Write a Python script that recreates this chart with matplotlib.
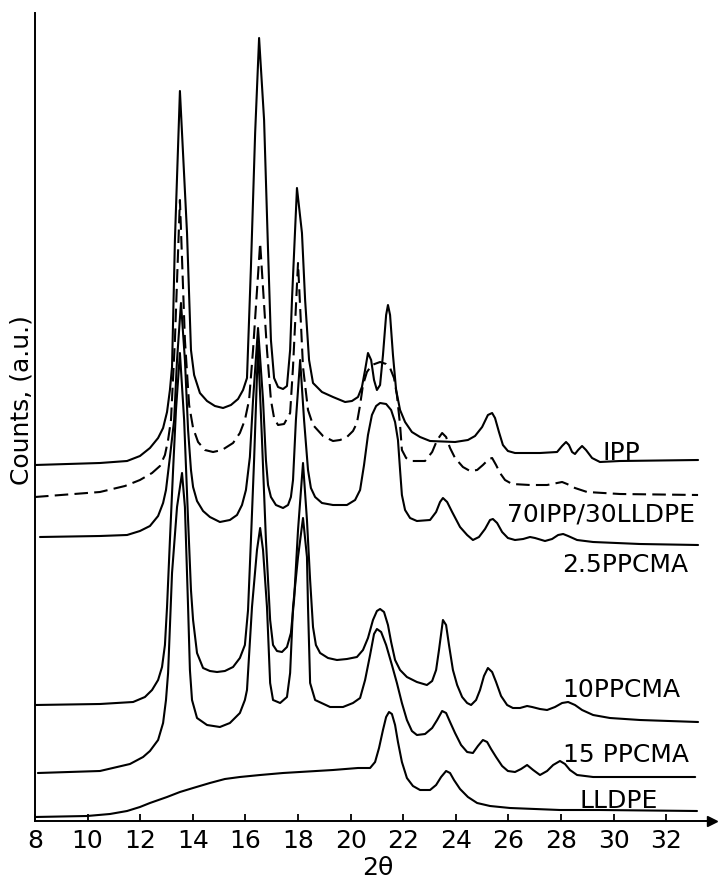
import matplotlib
matplotlib.use("Agg")
import matplotlib.pyplot as plt

# 2-theta (deg) and counts (a.u.)
ipp_x = [8.00, 10.47, 11.50, 11.99, 12.37, 12.68, 12.87, 13.02, 13.13, 13.21,
         13.32, 13.51, 13.78, 13.93, 14.05, 14.27, 14.54, 14.84, 15.15, 15.45,
         15.72, 15.91, 16.06, 16.21, 16.37, 16.52, 16.71, 16.86, 16.97, 17.09,
         17.24, 17.43, 17.58, 17.70, 17.77, 17.96, 18.15, 18.27, 18.42, 18.57,
         18.91, 19.33, 19.79, 20.05, 20.28, 20.43, 20.55, 20.66, 20.78, 20.89,
         21.00, 21.12, 21.23, 21.35, 21.42, 21.50, 21.61, 21.73, 21.88, 22.07,
         22.33, 22.64, 23.02, 23.97, 24.46, 24.73, 25.00, 25.22, 25.38, 25.49,
         25.64, 25.79, 25.98, 26.25, 27.20, 27.85, 28.04, 28.19, 28.30, 28.42,
         28.53, 28.65, 28.80, 28.95, 29.18, 29.48, 30.24, 33.21]
ipp_y = [356, 358, 360, 365, 373, 383, 393, 409, 431, 454,
         581, 730, 588, 471, 446, 428, 420, 415, 413, 416,
         422, 431, 443, 554, 688, 783, 701, 571, 481, 443,
         434, 432, 435, 471, 521, 633, 588, 521, 461, 438,
         429, 424, 419, 420, 424, 434, 451, 468, 461, 441,
         431, 436, 466, 506, 516, 506, 466, 431, 411, 399,
         389, 384, 380, 379, 381, 385, 394, 406, 408, 403,
         389, 376, 370, 368, 368, 369, 375, 379, 376, 369,
         367, 371, 375, 371, 363, 359, 360, 361]

blend_x = [8.00, 10.47, 11.42, 11.99, 12.45, 12.75, 12.94, 13.06, 13.17, 13.32,
           13.51, 13.70, 13.86, 14.01, 14.20, 14.46, 14.77, 15.11, 15.53, 15.79,
           15.98, 16.14, 16.29, 16.56, 16.82, 16.97, 17.09, 17.24, 17.47, 17.70,
           17.81, 18.00, 18.19, 18.38, 18.57, 18.95, 19.33, 19.60, 19.86, 20.09,
           20.24, 20.36, 20.47, 20.62, 20.81, 21.12, 21.35, 21.50, 21.65, 21.76,
           21.88, 21.95, 22.11, 22.33, 22.83, 23.10, 23.29, 23.48, 23.63, 23.78,
           23.97, 24.27, 24.54, 24.81, 25.03, 25.26, 25.38, 25.53, 25.68, 25.87,
           26.14, 26.82, 27.47, 27.85, 28.04, 28.23, 28.53, 28.99, 30.24, 33.21]
blend_y = [324, 329, 335, 341, 348, 355, 366, 381, 401, 481,
           621, 481, 416, 393, 379, 371, 369, 371, 378, 388,
           401, 421, 471, 578, 471, 421, 403, 396, 397, 408,
           454, 558, 454, 411, 396, 385, 380, 381, 384, 390,
           398, 416, 436, 449, 456, 459, 457, 453, 443, 426,
           396, 371, 363, 360, 360, 369, 381, 388, 384, 373,
           363, 354, 350, 351, 356, 362, 363, 356, 348, 341,
           337, 336, 336, 338, 339, 337, 333, 329, 327, 326]

pp25_x = [8.19, 10.47, 11.50, 11.99, 12.37, 12.68, 12.87, 12.98, 13.13, 13.29,
          13.40, 13.55, 13.70, 13.82, 13.93, 14.01, 14.16, 14.39, 14.65, 15.03,
          15.41, 15.68, 15.87, 16.02, 16.17, 16.29, 16.48, 16.67, 16.78, 16.86,
          16.97, 17.16, 17.43, 17.62, 17.73, 17.81, 17.92, 18.08, 18.23, 18.38,
          18.49, 18.65, 18.91, 19.33, 19.86, 20.17, 20.36, 20.51, 20.66, 20.81,
          20.97, 21.12, 21.35, 21.54, 21.69, 21.80, 21.88, 21.95, 22.07, 22.26,
          22.52, 23.02, 23.25, 23.40, 23.51, 23.67, 23.86, 24.16, 24.43, 24.65,
          24.88, 25.11, 25.30, 25.41, 25.57, 25.76, 25.98, 26.25, 26.56, 26.82,
          27.01, 27.39, 27.66, 27.89, 28.08, 28.27, 28.61, 29.22, 31.00, 33.21]
pp25_y = [284, 285, 286, 290, 295, 305, 318, 331, 364, 401,
          461, 518, 461, 391, 351, 334, 320, 310, 304, 299,
          301, 306, 316, 331, 364, 421, 493, 421, 361, 336,
          324, 316, 313, 316, 324, 341, 401, 461, 401, 351,
          333, 324, 318, 316, 316, 321, 331, 356, 386, 406,
          415, 418, 417, 411, 399, 381, 351, 326, 311, 303,
          300, 301, 309, 319, 323, 319, 309, 294, 286, 281,
          284, 292, 301, 302, 298, 289, 283, 281, 282, 284,
          283, 280, 282, 286, 287, 285, 281, 279, 277, 276]

pp10_x = [8.00, 10.47, 11.73, 12.18, 12.45, 12.68, 12.83, 12.94, 13.02, 13.13,
          13.25, 13.36, 13.51, 13.67, 13.82, 13.93, 14.01, 14.16, 14.39, 14.65,
          14.92, 15.22, 15.53, 15.79, 15.98, 16.10, 16.21, 16.33, 16.48, 16.63,
          16.78, 16.94, 17.05, 17.20, 17.39, 17.58, 17.73, 17.85, 18.00, 18.19,
          18.34, 18.46, 18.57, 18.68, 18.84, 19.14, 19.48, 19.86, 20.24, 20.47,
          20.66, 20.85, 21.00, 21.12, 21.27, 21.42, 21.54, 21.69, 21.88, 22.14,
          22.52, 22.90, 23.10, 23.25, 23.36, 23.51, 23.63, 23.74, 23.89, 24.05,
          24.24, 24.43, 24.58, 24.77, 24.92, 25.07, 25.22, 25.38, 25.53, 25.72,
          25.95, 26.17, 26.44, 26.71, 26.90, 27.20, 27.47, 27.77, 28.04, 28.27,
          28.53, 28.80, 29.22, 29.86, 31.00, 33.21]
pp10_y = [116, 117, 119, 124, 131, 141, 154, 176, 214, 281,
          351, 411, 468, 401, 301, 231, 201, 168, 153, 150,
          149, 150, 154, 163, 176, 211, 281, 361, 476, 381,
          281, 201, 176, 170, 169, 174, 188, 221, 291, 358,
          301, 241, 194, 176, 168, 163, 161, 162, 164, 171,
          183, 201, 210, 212, 209, 196, 179, 161, 151, 144,
          139, 136, 140, 151, 171, 201, 196, 176, 151, 136,
          124, 118, 116, 121, 131, 145, 153, 149, 139, 125,
          116, 113, 113, 115, 114, 112, 111, 114, 118, 119,
          116, 111, 106, 103, 101, 99]

pp15_x = [8.11, 10.47, 11.61, 12.11, 12.37, 12.68, 12.87, 12.98, 13.06, 13.21,
          13.40, 13.59, 13.70, 13.82, 13.89, 13.97, 14.16, 14.54, 15.03, 15.41,
          15.79, 15.98, 16.06, 16.25, 16.44, 16.56, 16.67, 16.82, 16.94, 17.05,
          17.32, 17.58, 17.70, 17.81, 18.00, 18.19, 18.34, 18.38, 18.46, 18.65,
          19.22, 19.71, 20.09, 20.36, 20.55, 20.74, 20.89, 21.00, 21.16, 21.35,
          21.57, 21.76, 21.95, 22.14, 22.33, 22.52, 22.83, 23.10, 23.29, 23.48,
          23.63, 23.78, 23.97, 24.20, 24.43, 24.65, 24.84, 25.03, 25.19, 25.34,
          25.53, 25.76, 25.98, 26.25, 26.48, 26.71, 26.94, 27.20, 27.47, 27.70,
          27.96, 28.15, 28.34, 28.61, 29.22, 31.00, 33.10]
pp15_y = [48, 50, 57, 64, 70, 81, 98, 121, 148, 248,
          314, 348, 314, 214, 151, 121, 103, 96, 94, 98,
          108, 121, 131, 214, 271, 293, 271, 214, 138, 121,
          118, 124, 148, 214, 264, 303, 264, 214, 138, 121,
          114, 114, 118, 123, 141, 166, 187, 192, 189, 176,
          156, 138, 118, 101, 90, 86, 87, 93, 101, 110,
          108, 99, 88, 76, 69, 68, 75, 81, 79, 72,
          64, 55, 50, 49, 52, 56, 51, 46, 50, 56,
          60, 57, 51, 46, 44, 44, 44]

lldpe_x = [8.00, 9.98, 10.85, 11.50, 11.99, 12.37, 13.02, 13.51, 14.01, 14.65,
           15.22, 15.79, 16.56, 17.43, 19.33, 20.28, 20.74, 20.93, 21.08, 21.23,
           21.35, 21.46, 21.57, 21.69, 21.80, 21.95, 22.14, 22.37, 22.64, 23.02,
           23.25, 23.44, 23.63, 23.78, 23.93, 24.16, 24.46, 24.81, 25.30, 26.06,
           27.96, 29.48, 33.17]
lldpe_y = [4, 5, 7, 10, 14, 18, 24, 29, 33, 38,
           42, 44, 46, 48, 51, 53, 53, 59, 73, 91,
           104, 109, 107, 96, 79, 59, 43, 35, 31, 31,
           36, 44, 50, 48, 41, 32, 24, 18, 15, 13,
           11, 11, 10]

ticks = [8, 10, 12, 14, 16, 18, 20, 22, 24, 26, 28, 30, 32]

fs = 18
fig = plt.figure(figsize=(7.19, 8.81), dpi=100)
ax = fig.add_axes([35 / 719, 60 / 881, 677 / 719, 808 / 881])

kw = dict(color="black", lw=1.5, solid_joinstyle="round", solid_capstyle="round")
ax.plot(ipp_x, ipp_y, **kw)
ax.plot(blend_x, blend_y, color="black", lw=1.5, dashes=(6.5, 3))
ax.plot(pp25_x, pp25_y, **kw)
ax.plot(pp10_x, pp10_y, **kw)
ax.plot(pp15_x, pp15_y, **kw)
ax.plot(lldpe_x, lldpe_y, **kw)

# curve labels
ax.text(29.56, 361, "IPP", fontsize=fs, va="baseline")
ax.text(25.95, 299, "70IPP/30LLDPE", fontsize=fs, va="baseline")
ax.text(28.04, 249, "2.5PPCMA", fontsize=fs, va="baseline")
ax.text(28.04, 124, "10PPCMA", fontsize=fs, va="baseline")
ax.text(28.08, 59, "15 PPCMA", fontsize=fs, va="baseline")
ax.text(28.72, 13, "LLDPE", fontsize=fs, va="baseline")

ax.set_xlim(8, 33.74)
ax.set_ylim(0, 808)
ax.set_xticks(ticks)
ax.set_xticklabels([str(t) for t in ticks], fontsize=fs)
ax.set_yticks([])
ax.tick_params(axis="x", direction="in", length=5, width=1.3, pad=6)
for s in ["top", "right"]:
    ax.spines[s].set_visible(False)
for s in ["left", "bottom"]:
    ax.spines[s].set_linewidth(1.4)

# arrow head at the end of the x axis
ax.plot([1], [0], ">", color="black", markersize=7, transform=ax.transAxes, clip_on=False)

fig.text(378 / 719, 1 - 868 / 881, "2θ", fontsize=fs, ha="center", va="center")
fig.text(22 / 719, 1 - 400 / 881, "Counts, (a.u.)", fontsize=fs, rotation=90, ha="center", va="center")

fig.savefig("out.png", dpi=100)
